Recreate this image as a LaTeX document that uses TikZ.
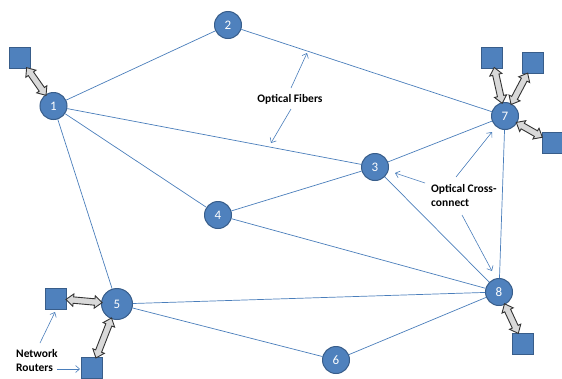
\documentclass[tikz,border=0pt]{standalone}
\usepackage{fontspec}
\setmainfont{Carlito}
\usetikzlibrary{shapes.arrows,calc,arrows.meta}
\definecolor{nodeblue}{HTML}{4F81BD}
\definecolor{nodeedge}{HTML}{385D8A}
\definecolor{linkblue}{HTML}{4A7EBB}
\newcommand\linkarrow[2]{%
  \path (#1) -- (#2) coordinate[pos=0] (da-s) coordinate[pos=1] (da-e);
  \path let \p1=($(da-e)-(da-s)$), \n1={atan2(\y1,\x1)}, \n2={veclen(\x1,\y1)} in
    node[dblarrow, rotate=\n1, minimum height=\n2+2pt] at ($(da-s)!0.5!(da-e)$) {\rule{0pt}{5.5pt}};}
\begin{document}
\begin{tikzpicture}[x=1pt,y=-1pt,
  netnode/.style={circle, fill=nodeblue, draw=nodeedge, line width=1pt, minimum size=27pt, inner sep=0pt, text=white, font=\fontsize{13}{13}\selectfont},
  router/.style={rectangle, fill=nodeblue, draw=nodeedge, line width=1pt, minimum size=21pt, inner sep=0pt},
  link/.style={draw=linkblue, line width=0.7pt},
  callout/.style={draw=linkblue, line width=0.6pt, -{Straight Barb[length=4pt,width=7pt]}},
  annot/.style={font=\bfseries\fontsize{11.5}{14}\selectfont, align=left, inner sep=0pt},
  dblarrow/.style={double arrow, draw=black!80, fill=black!15, line width=0.9pt, inner sep=0pt, double arrow head extend=3pt, double arrow tip angle=80}]
\useasboundingbox (0,0) rectangle (562,378);
% nodes
\node[netnode] (n1) at (53.5,106) {1};
\node[netnode] (n2) at (228,25) {2};
\node[netnode] (n3) at (375,167) {3};
\node[netnode] (n4) at (218,215) {4};
\node[netnode, minimum size=31pt] (n5) at (117,304) {5};
\node[netnode] (n6) at (336,360) {6};
\node[netnode] (n7) at (505,116) {7};
\node[netnode] (n8) at (499,292) {8};
% links
\path[link] (n1) -- (n2);
\path[link] (n1) -- (n3);
\path[link] (n1) -- (n4);
\path[link] (n1) -- (n5);
\path[link] (n2) -- (n7);
\path[link] (n3) -- (n7);
\path[link] (n3) -- (n4);
\path[link] (n3) -- (n8);
\path[link] (n4) -- (n8);
\path[link] (n5) -- (n8);
\path[link] (n5) -- (n6);
\path[link] (n6) -- (n8);
\path[link] (n7) -- (n8);
% routers
\node[router] (r1) at (19.5,57.5) {};
\node[router] (r7a) at (492,57.5) {};
\node[router] (r7b) at (533,63) {};
\node[router] (r7c) at (552.5,143) {};
\node[router] (r5a) at (56,298.5) {};
\node[router] (r5b) at (92,368) {};
\node[router] (r8) at (523,343.5) {};
\linkarrow{r1}{n1}
\linkarrow{r7a}{n7}
\linkarrow{r7b}{n7}
\linkarrow{r7c}{n7}
\linkarrow{r5a}{n5}
\linkarrow{r5b}{n5}
\linkarrow{r8}{n8}
% annotations
\node[annot] (fib) at (290,99) {Optical Fibers};
\node[annot, anchor=west] (occ) at (431,195.5) {Optical Cross-\\connect};
\node[annot, anchor=west] (nr) at (16,361) {Network\\Routers};
\coordinate (f1s) at (291,88);  \coordinate (f1e) at (307,53);
\coordinate (f2s) at (291,109); \coordinate (f2e) at (271,143);
\coordinate (c1s) at (425,183); \coordinate (c1e) at (395,173);
\coordinate (c2s) at (456,177); \coordinate (c2e) at (492,132);
\coordinate (c3s) at (462,215); \coordinate (c3e) at (492,271);
\coordinate (r1s) at (40,343);  \coordinate (r1e) at (55,312);
\coordinate (r2s) at (57,369);  \coordinate (r2e) at (80,369);
\draw[callout] (f1s) -- (f1e);
\draw[callout] (f2s) -- (f2e);
\draw[callout] (c1s) -- (c1e);
\draw[callout] (c2s) -- (c2e);
\draw[callout] (c3s) -- (c3e);
\draw[callout] (r1s) -- (r1e);
\draw[callout] (r2s) -- (r2e);
\end{tikzpicture}
\end{document}
